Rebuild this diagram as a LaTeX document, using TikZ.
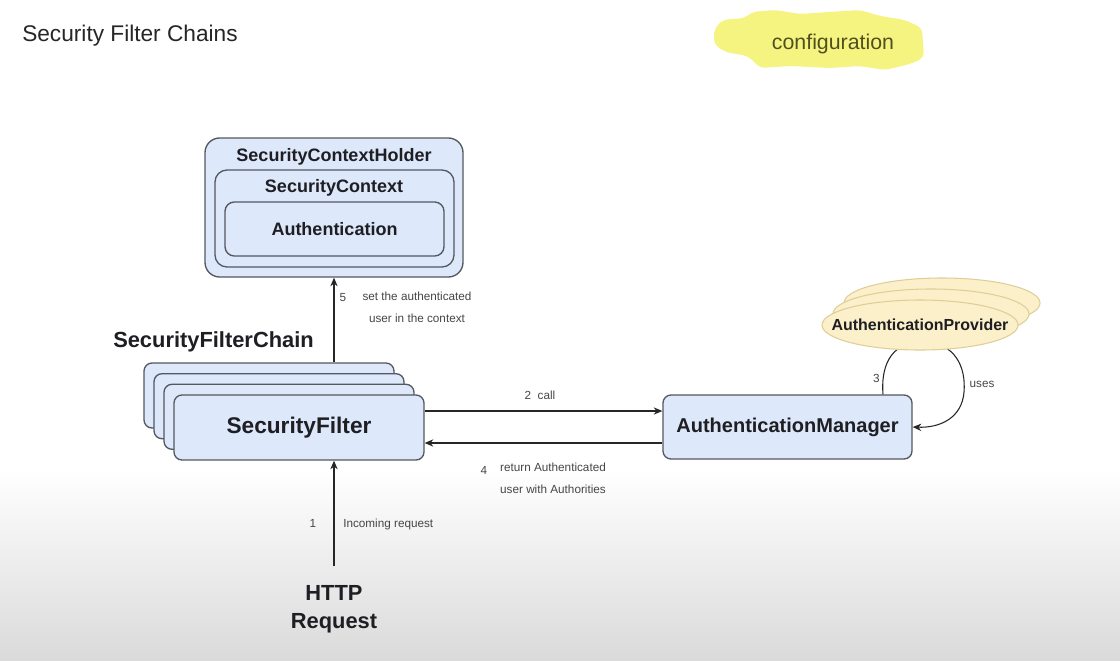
\documentclass[tikz,border=0pt]{standalone}
\usepackage{fontspec}
\setmainfont{Liberation Sans}
\usetikzlibrary{calc,arrows.meta,shapes.geometric}
\definecolor{boxfill}{RGB}{221,232,250}
\definecolor{boxline}{RGB}{85,88,95}
\definecolor{provfill}{RGB}{252,240,202}
\definecolor{provline}{RGB}{222,206,152}
\definecolor{inktext}{RGB}{30,30,35}
\definecolor{hilite}{RGB}{246,244,128}
\definecolor{labeltext}{RGB}{70,70,70}
\definecolor{bggray}{RGB}{218,218,218}
\begin{document}
\begin{tikzpicture}[x=0.75pt,y=-0.75pt,
  box/.style={draw=boxline, fill=boxfill, line width=1pt, rounded corners=6pt, minimum width=187.5pt, minimum height=48.75pt, inner sep=0pt},
  bigtext/.style={font=\bfseries\fontsize{17}{20}\selectfont, text=inktext},
  midtext/.style={font=\bfseries\fontsize{13.5}{16}\selectfont, text=inktext, inner sep=0pt},
  small/.style={font=\fontsize{8.8}{16.5}\selectfont, text=labeltext, inner sep=0pt},
  conn/.style={draw=black!85, line width=0.8pt, -{Stealth[length=6.5pt,width=5.5pt]}},
  prov/.style={ellipse, draw=provline, fill=provfill, line width=0.8pt, minimum width=147pt, minimum height=37.5pt, inner sep=0pt}
]
\useasboundingbox (0,0) rectangle (1120,660);
% background
\fill[white] (0,0) rectangle (1120,660);
\shade[top color=white, bottom color=bggray] (0,470) rectangle (1120,660);

% highlight blob
\fill[hilite, rounded corners=4pt] (714,30) -- (722,20) -- (745,18) -- (752,12) -- (775,10) -- (800,14) -- (860,10) -- (880,16) -- (905,20) -- (922,28) -- (924,58) -- (910,64) -- (885,70) -- (860,66) -- (830,68) -- (790,66) -- (760,68) -- (748,56) -- (725,52) -- (714,44) -- cycle;

\node[anchor=west, font=\fontsize{17}{20}\selectfont, text=black!85, inner sep=0pt] (title) at (22,36) {Security Filter Chains};
\node[font=\fontsize{16}{20}\selectfont, text={rgb,255:red,80;green,80;blue,30}, inner sep=0pt] (config) at (833,44) {configuration};

% SecurityContextHolder
\node[draw=boxline, fill=boxfill, line width=1pt, rounded corners=11pt, minimum width=193.5pt, minimum height=104.25pt, inner sep=0pt] (holder) at (334,207.5) {};
\node[draw=boxline, fill=boxfill, line width=1pt, rounded corners=9pt, minimum width=179.25pt, minimum height=72.75pt, inner sep=0pt] (ctx) at (334.5,218.5) {};
\node[draw=boxline, fill=boxfill, line width=1pt, rounded corners=7pt, minimum width=164.25pt, minimum height=40.5pt, midtext] (auth) at (334.5,229) {Authentication};
\node[midtext] (holdertxt) at (334,157) {SecurityContextHolder};
\node[midtext] (ctxtxt) at (334,188) {SecurityContext};

% filter chain
\node[font=\bfseries\fontsize{16.4}{20}\selectfont, text=inktext, inner sep=0pt] (chain) at (213.5,342) {SecurityFilterChain};
\node[box] (f1) at (269,395.5) {};
\node[box] (f2) at (279,406.2) {};
\node[box] (f3) at (289,416.8) {};
\node[box, bigtext] (sf) at (299,427.5) {SecurityFilter};

% manager
\node[box, minimum width=186.75pt, minimum height=48pt, font=\bfseries\fontsize{15}{18}\selectfont, text=inktext] (am) at (787.5,427) {AuthenticationManager};

% HTTP request
\node[align=center, font=\bfseries\fontsize{16.4}{21}\selectfont, text=inktext, inner xsep=0pt, inner ysep=14pt] (http) at (334,609) {HTTP\\Request};

% connectors
\draw[conn] (http.north) -- (http.north |- sf.south);
\draw[conn] (holder.south |- f1.north) -- (holder.south);
\draw[conn] ($(sf.east)+(0,-16.5)$) -- ($(am.west)+(0,-16)$);
\draw[conn] ($(am.west)+(0,16)$) -- ($(sf.east)+(0,15.5)$);

\coordinate (loopstart) at ($(am.north)+(95.5,0)$);
\draw[conn] (loopstart) .. controls (881,370) and (888,342) .. (922,342) .. controls (956,342) and (966,368) .. (964,392) .. controls (962,418) and (940,428) .. (am.east);

% providers
\node[prov] (p3) at (942,303) {};
\node[prov] (p2) at (931,314) {};
\node[prov] (prov) at (920,325) {};
\node[font=\bfseries\fontsize{12}{14}\selectfont, text=inktext, inner sep=0pt] (provtxt) at (prov) {AuthenticationProvider};

% labels
\node[small] (n5) at (343,298) {5};
\node[small, align=center] (l5) at (417,307) {set the authenticated\\user in the context};
\node[small] (l2) at (540,395) {2\ \ call};
\node[small] (n4) at (484,470) {4};
\node[small, align=center] (l4) at (553,478) {return Authenticated\\user with Authorities};
\node[small] (n1) at (313,523) {1};
\node[small, anchor=west] (l1) at (343,524) {Incoming request};
\node[small, anchor=east] (n3) at (880,378) {3};
\node[small] (l3) at (982,384) {uses};
\end{tikzpicture}
\end{document}
